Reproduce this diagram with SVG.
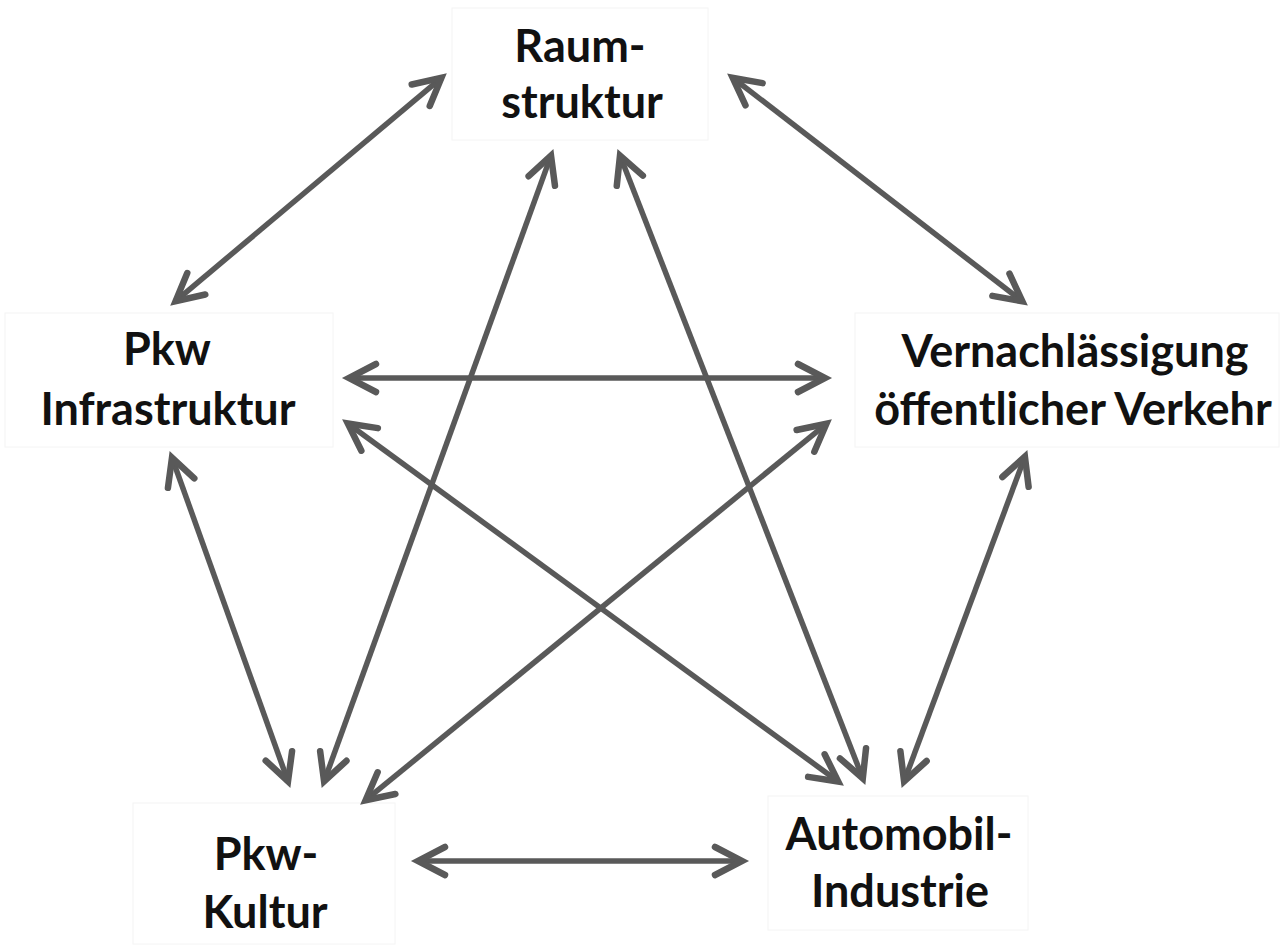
<svg xmlns="http://www.w3.org/2000/svg" width="1280" height="946" viewBox="0 0 1280 946">
  <style>
    .box { fill: #ffffff; stroke: #f4f4f4; stroke-width: 1; }
    .label { font-family: Lato, "Open Sans", "Liberation Sans", sans-serif; font-weight: 700; font-size: 45px; fill: #111111; text-anchor: middle; }
    .link { stroke: #595959; stroke-width: 5.5; fill: none; marker-start: url(#head); marker-end: url(#head); }
  </style>
  <defs>
    <!-- open V-shaped arrowhead, used at both ends of every link -->
    <marker id="head" markerUnits="userSpaceOnUse" viewBox="-40 -20 50 40" refX="0" refY="0" markerWidth="50" markerHeight="40" orient="auto-start-reverse" overflow="visible">
      <path d="M -27 -14 L 0 0 L -27 14" fill="none" stroke="#595959" stroke-width="6.5" stroke-linecap="round" stroke-linejoin="miter" stroke-miterlimit="10"/>
    </marker>
  </defs>

  <rect width="1280" height="946" fill="#ffffff"/>

  <g id="node-raumstruktur">
    <rect class="box" x="452" y="8" width="256" height="132"/>
    <text class="label" x="580" y="62">Raum-</text>
    <text class="label" x="582" y="118">struktur</text>
  </g>

  <g id="node-pkw-infrastruktur">
    <rect class="box" x="5" y="313" width="328" height="134"/>
    <text class="label" x="167" y="365">Pkw</text>
    <text class="label" x="168" y="425">Infrastruktur</text>
  </g>

  <g id="node-vernachlaessigung">
    <rect class="box" x="855" y="313" width="424" height="134"/>
    <text class="label" x="1075" y="367">Vernachlässigung</text>
    <text class="label" x="1073" y="425">öffentlicher Verkehr</text>
  </g>

  <g id="node-pkw-kultur">
    <rect class="box" x="133" y="803" width="262" height="141"/>
    <text class="label" x="266" y="870">Pkw-</text>
    <text class="label" x="265" y="928">Kultur</text>
  </g>

  <g id="node-automobil-industrie">
    <rect class="box" x="768" y="796" width="260" height="134"/>
    <text class="label" x="899" y="850">Automobil-</text>
    <text class="label" x="900" y="907">Industrie</text>
  </g>

  <g id="connectors">
    <!-- Raumstruktur <-> Pkw Infrastruktur -->
    <line class="link" x1="441.4" y1="77.9" x2="175.6" y2="301.1"/>
    <!-- Raumstruktur <-> Vernachlässigung -->
    <line class="link" x1="732.7" y1="77.7" x2="1022.3" y2="301.3"/>
    <!-- Pkw Infrastruktur <-> Vernachlässigung -->
    <line class="link" x1="349" y1="378" x2="825" y2="378"/>
    <!-- Pkw Infrastruktur <-> Automobil-Industrie -->
    <line class="link" x1="347.8" y1="423.5" x2="838.2" y2="781.5"/>
    <!-- Vernachlässigung <-> Pkw-Kultur -->
    <line class="link" x1="826.4" y1="423.8" x2="365.6" y2="800.2"/>
    <!-- Raumstruktur <-> Pkw-Kultur -->
    <line class="link" x1="551" y1="155.6" x2="324.1" y2="781.4"/>
    <!-- Raumstruktur <-> Automobil-Industrie -->
    <line class="link" x1="620" y1="155.6" x2="862.8" y2="778.4"/>
    <!-- Pkw Infrastruktur <-> Pkw-Kultur -->
    <line class="link" x1="172" y1="457.7" x2="288" y2="781.3"/>
    <!-- Vernachlässigung <-> Automobil-Industrie -->
    <line class="link" x1="1024.9" y1="456.6" x2="904.1" y2="781.4"/>
    <!-- Pkw-Kultur <-> Automobil-Industrie -->
    <line class="link" x1="418" y1="861" x2="742" y2="861"/>
  </g>
</svg>
